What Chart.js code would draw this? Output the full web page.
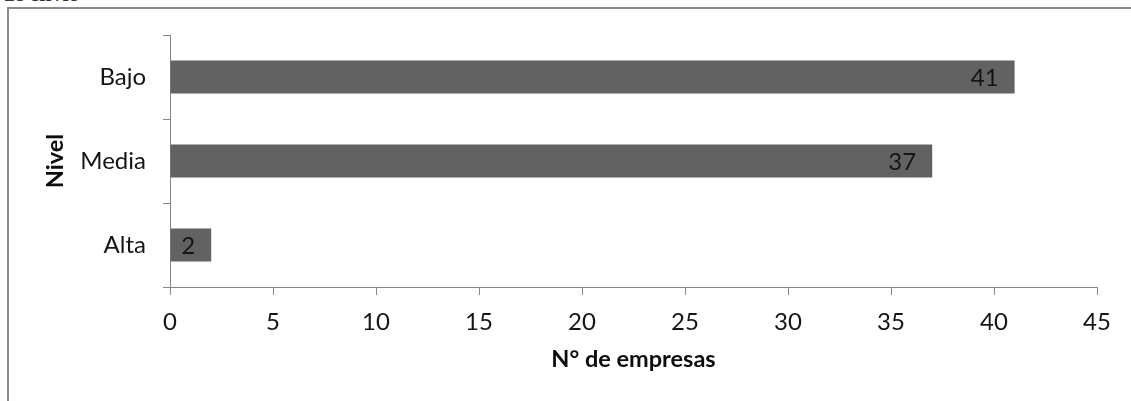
<!DOCTYPE html>
<html lang="es">
<head>
<meta charset="utf-8">
<title>Nivel - N° de empresas</title>
<script src="https://cdn.jsdelivr.net/npm/chart.js@4.4.1/dist/chart.umd.min.js"></script>
<style>
  html, body { margin: 0; padding: 0; background: #fff; }
  body { width: 1131px; height: 401px; position: relative; overflow: hidden; }
  #caption {
    position: absolute; left: 2px; top: -19px;
    font: bold 22px "Liberation Serif", serif; color: #333;
  }
  #frame {
    position: absolute; left: 7px; top: 7px; width: 1140px; height: 410px;
    border-top: 2px solid #8a8a8a; border-left: 2px solid #8a8a8a;
  }
  #chart { position: absolute; left: 0; top: 0; }
</style>
</head>
<body>
<div id="caption">de envío</div>
<div id="frame"></div>
<canvas id="chart" width="1131" height="401"></canvas>
<script>
// categories (top to bottom) and number of companies per level
const niveles = ['Bajo', 'Media', 'Alta'];
const empresas = [41, 37, 2];

// x axis range and tick step
const xMin = 0;
const xMax = 45;
const xStep = 5;

const axisGray = '#868686';
const textColor = '#151515';
const fontFamily = 'Lato, "Open Sans", sans-serif';

// draws the value of each bar just inside its end
const valueLabels = {
    id: 'valueLabels',
    afterDatasetsDraw(chart) {
        const { ctx } = chart;
        const meta = chart.getDatasetMeta(0);
        ctx.save();
        ctx.font = '24px ' + fontFamily;
        ctx.fillStyle = textColor;
        ctx.textAlign = 'right';
        ctx.textBaseline = 'middle';
        meta.data.forEach((bar, i) => {
            ctx.fillText(String(empresas[i]), bar.x - 16, bar.y + 1);
        });
        ctx.restore();
    }
};

new Chart(document.getElementById('chart'), {
    type: 'bar',
    data: {
        labels: niveles,
        datasets: [{
            data: empresas,
            backgroundColor: '#626262',
            borderWidth: 0,
            barPercentage: 0.39,
            categoryPercentage: 1,
        }]
    },
    options: {
        indexAxis: 'y',
        responsive: false,
        animation: false,
        events: [],
        layout: { padding: { left: 0, right: 34, top: 35, bottom: 0 } },
        plugins: {
            legend: { display: false },
            tooltip: { enabled: false },
        },
        scales: {
            x: {
                min: xMin,
                max: xMax,
                afterFit(scale) { scale.height = 114; },
                border: { color: axisGray, width: 1 },
                grid: {
                    drawOnChartArea: false,
                    drawTicks: true,
                    tickLength: 8,
                    color: axisGray,
                },
                ticks: {
                    stepSize: xStep,
                    padding: 13,
                    color: textColor,
                    font: { family: fontFamily, size: 24 },
                },
                title: {
                    display: true,
                    text: 'N° de empresas',
                    color: '#0d0d0d',
                    font: { family: fontFamily, size: 23.5, weight: 'bold' },
                    padding: { top: 0, bottom: 27 },
                },
            },
            y: {
                afterFit(scale) { scale.width = 170; },
                border: { color: axisGray, width: 1 },
                grid: {
                    offset: true,
                    drawOnChartArea: false,
                    drawTicks: true,
                    tickLength: 7,
                    color: axisGray,
                },
                ticks: {
                    padding: 17,
                    color: textColor,
                    font: { family: fontFamily, size: 24 },
                },
                title: {
                    display: true,
                    text: 'Nivel',
                    color: '#0d0d0d',
                    font: { family: fontFamily, size: 23.5, weight: 'bold' },
                    padding: { top: 41, bottom: 0 },
                },
            },
        },
    },
    plugins: [valueLabels],
});
</script>
</body>
</html>
